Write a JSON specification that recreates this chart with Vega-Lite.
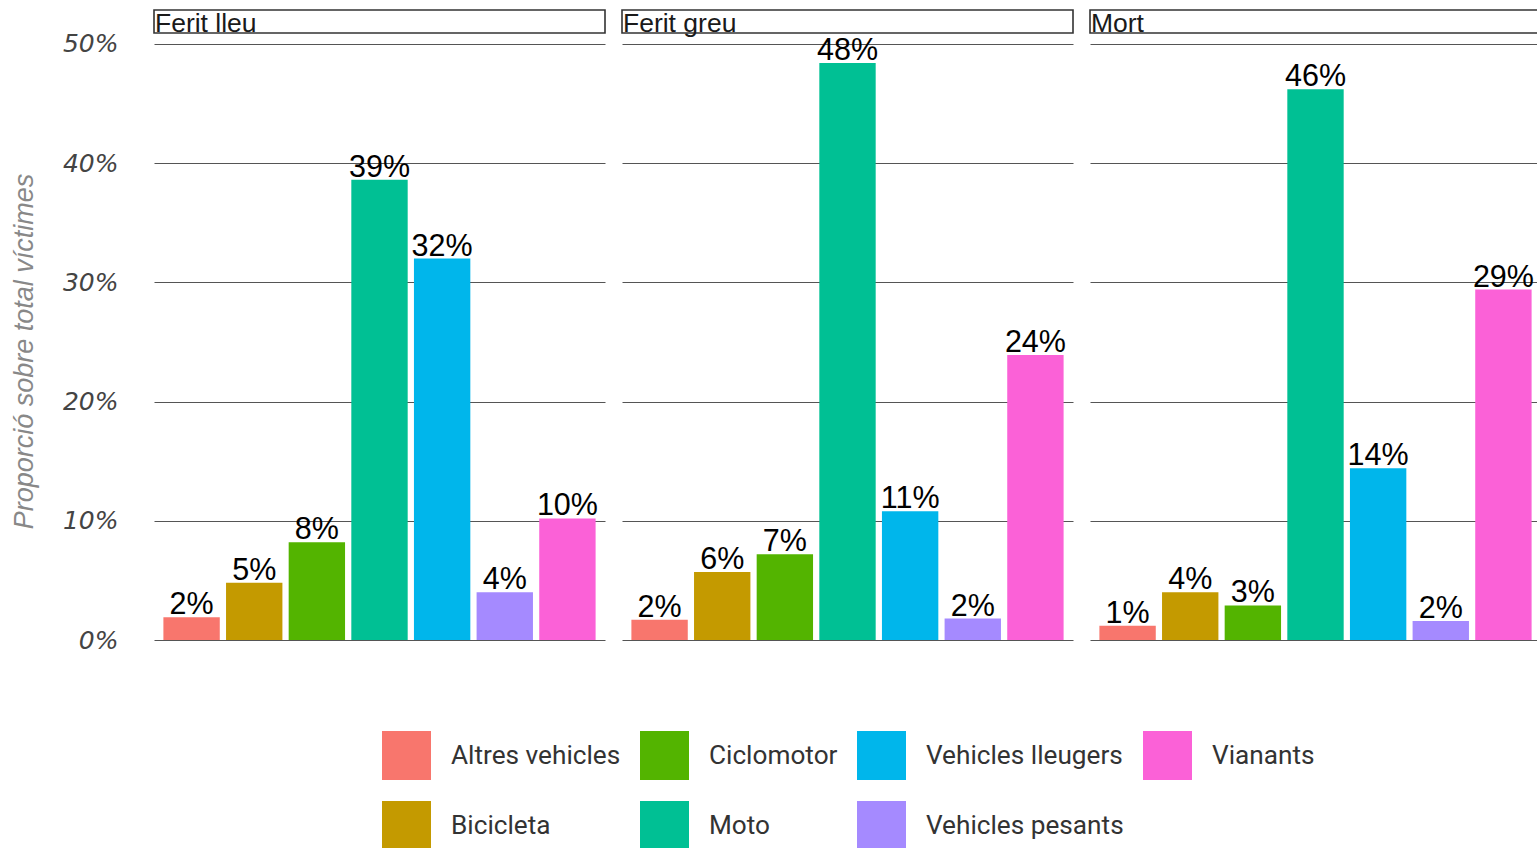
{
  "$schema": "https://vega.github.io/schema/vega-lite/v6.json",
  "padding": {"left": 10, "top": 9, "right": 0, "bottom": 0},
  "background": "white",
  "data": {
    "values": [
      {"estat": "Ferit lleu", "categoria": "Altres vehicles", "valor": 0.019},
      {"estat": "Ferit lleu", "categoria": "Bicicleta", "valor": 0.048},
      {"estat": "Ferit lleu", "categoria": "Ciclomotor", "valor": 0.082},
      {"estat": "Ferit lleu", "categoria": "Moto", "valor": 0.386},
      {"estat": "Ferit lleu", "categoria": "Vehicles lleugers", "valor": 0.320},
      {"estat": "Ferit lleu", "categoria": "Vehicles pesants", "valor": 0.040},
      {"estat": "Ferit lleu", "categoria": "Vianants", "valor": 0.102},
      {"estat": "Ferit greu", "categoria": "Altres vehicles", "valor": 0.017},
      {"estat": "Ferit greu", "categoria": "Bicicleta", "valor": 0.057},
      {"estat": "Ferit greu", "categoria": "Ciclomotor", "valor": 0.072},
      {"estat": "Ferit greu", "categoria": "Moto", "valor": 0.484},
      {"estat": "Ferit greu", "categoria": "Vehicles lleugers", "valor": 0.108},
      {"estat": "Ferit greu", "categoria": "Vehicles pesants", "valor": 0.018},
      {"estat": "Ferit greu", "categoria": "Vianants", "valor": 0.239},
      {"estat": "Mort", "categoria": "Altres vehicles", "valor": 0.012},
      {"estat": "Mort", "categoria": "Bicicleta", "valor": 0.040},
      {"estat": "Mort", "categoria": "Ciclomotor", "valor": 0.029},
      {"estat": "Mort", "categoria": "Moto", "valor": 0.462},
      {"estat": "Mort", "categoria": "Vehicles lleugers", "valor": 0.144},
      {"estat": "Mort", "categoria": "Vehicles pesants", "valor": 0.016},
      {"estat": "Mort", "categoria": "Vianants", "valor": 0.294}
    ]
  },
  "facet": {
    "column": {
      "field": "estat",
      "type": "nominal",
      "sort": ["Ferit lleu", "Ferit greu", "Mort"],
      "header": {"title": null, "labels": false}
    }
  },
  "spacing": 15,
  "spec": {
    "width": 451,
    "height": 630,
    "encoding": {
      "x": {
        "field": "categoria",
        "type": "nominal",
        "axis": null,
        "scale": {
          "domain": ["Altres vehicles", "Bicicleta", "Ciclomotor", "Moto", "Vehicles lleugers", "Vehicles pesants", "Vianants"],
          "paddingInner": 0.1,
          "paddingOuter": 0.15
        }
      }
    },
    "layer": [
      {
        "mark": {"type": "bar"},
        "encoding": {
          "y": {
            "field": "valor",
            "type": "quantitative",
            "scale": {"domain": [0, 0.5285], "nice": false, "zero": true},
            "axis": {
              "values": [0, 0.1, 0.2, 0.3, 0.4, 0.5],
              "format": ".0%",
              "labelFont": "DejaVu Sans",
              "labelFontSize": 25,
              "labelFontStyle": "italic",
              "labelColor": "#444444",
              "labelPadding": 35,
              "ticks": false,
              "domain": false,
              "grid": true,
              "gridColor": "#555555",
              "gridWidth": 1,
              "title": "Proporció sobre total víctimes",
              "titleFont": "Liberation Sans",
              "titleFontSize": 27,
              "titleFontStyle": "italic",
              "titleFontWeight": "normal",
              "titleColor": "#888888",
              "titlePadding": 24,
              "titleY": 341
            }
          },
          "color": {
            "field": "categoria",
            "type": "nominal",
            "scale": {
              "domain": ["Altres vehicles", "Ciclomotor", "Vehicles lleugers", "Vianants", "Bicicleta", "Moto", "Vehicles pesants"],
              "range": ["#F8766D", "#53B400", "#00B6EB", "#FB61D7", "#C49A00", "#00C094", "#A58AFF"]
            },
            "legend": {
              "orient": "none",
              "legendX": 228,
              "legendY": 721,
              "direction": "horizontal",
              "columns": 4,
              "title": null,
              "symbolType": "square",
              "symbolSize": 2401,
              "symbolStrokeWidth": 0,
              "symbolOpacity": 1,
              "labelFont": "Roboto",
              "labelFontSize": 26.2,
              "labelColor": "#333333",
              "labelOffset": 20,
              "columnPadding": 19,
              "rowPadding": 21,
              "labelLimit": 400
            }
          }
        }
      },
      {
        "mark": {"type": "text", "baseline": "alphabetic", "dy": -3, "fontSize": 30.5, "font": "Liberation Sans", "color": "black"},
        "encoding": {
          "y": {"field": "valor", "type": "quantitative"},
          "text": {"field": "valor", "type": "quantitative", "format": ".0%"}
        }
      },
      {
        "transform": [{"filter": "datum.categoria === 'Altres vehicles'"}],
        "mark": {"type": "rect", "fill": "white", "stroke": "#333333", "strokeWidth": 1.6},
        "encoding": {
          "x": null,
          "y": {"datum": 0.5092, "type": "quantitative"},
          "y2": {"datum": 0.5285}
        }
      },
      {
        "transform": [{"filter": "datum.categoria === 'Altres vehicles'"}],
        "mark": {"type": "text", "align": "left", "baseline": "alphabetic", "dx": -36.6, "fontSize": 26.5, "font": "Liberation Sans", "color": "#1a1a1a"},
        "encoding": {
          "y": {"datum": 0.5098, "type": "quantitative"},
          "text": {"field": "estat", "type": "nominal"}
        }
      }
    ]
  },
  "config": {
    "view": {"stroke": null},
    "font": "Liberation Sans"
  }
}
